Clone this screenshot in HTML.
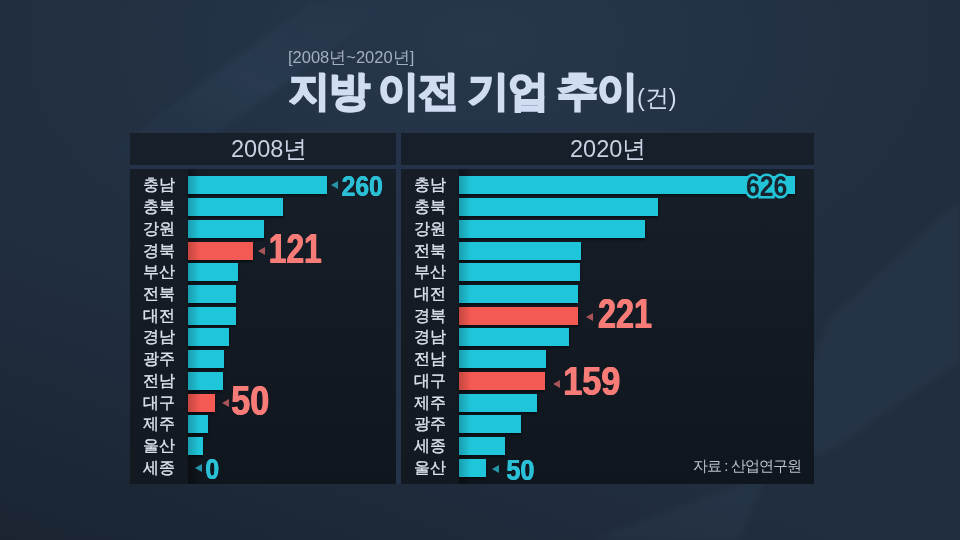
<!DOCTYPE html>
<html><head><meta charset="utf-8"><style>
html,body{margin:0;padding:0}
body{width:960px;height:540px;overflow:hidden;position:relative;font-family:"Liberation Sans",sans-serif;background:#1a2331;}
.bg{position:absolute;left:0;top:0;width:960px;height:540px;background:#212e40;}
.bg1{position:absolute;left:0;top:0;width:960px;height:540px;background:radial-gradient(ellipse 520px 300px at 480px 40px,rgba(40,57,78,.85) 0%,rgba(38,54,74,.45) 50%,rgba(33,46,64,0) 100%);}
.bg2{position:absolute;left:0;top:0;width:960px;height:540px;background:linear-gradient(20deg,rgba(18,24,32,.45) 0%,rgba(18,24,32,0) 35%);}
.hdr{position:absolute;top:133px;height:32px;background:#171f2a;}
.htxt{position:absolute;will-change:transform;top:131px;color:#c9d1e2;font-size:23.5px;line-height:36px;white-space:nowrap}
.body{position:absolute;top:169px;height:315px;background:linear-gradient(180deg,#161e28,#10161d);}
.lcol{position:absolute;top:169px;height:315px;width:58px;background:linear-gradient(180deg,#161d26,#121920);}
.shadow{position:absolute;top:169px;height:315px;width:14px;background:linear-gradient(90deg,rgba(0,0,0,.35),rgba(0,0,0,0));}
.lab{position:absolute;will-change:transform;-webkit-text-stroke:0.35px #dde3ee;width:58px;text-align:center;color:#dde3ee;font-size:16px;line-height:24px;}
.bar{position:absolute;height:18px;box-shadow:0 1.5px 2px rgba(0,8,14,.6);background:linear-gradient(90deg,#1b9db0 0px,#1fc6da 12px,#1fc6da 100%);}
.bar.red{background:linear-gradient(90deg,#c5463f 0px,#f35a53 12px,#f35a53 100%);}
.sub{position:absolute;will-change:transform;left:288px;top:44px;color:#a3aec0;font-size:16.5px;line-height:26px;white-space:nowrap}
.title{position:absolute;will-change:transform;left:288.5px;top:60.5px;color:#cfdcf2;font-size:41px;letter-spacing:-1.3px;line-height:60px;white-space:nowrap;-webkit-text-stroke:3.5px #cfdcf2;}
.unit{position:absolute;will-change:transform;left:636.5px;top:83px;color:#cfdcf2;font-size:23.5px;line-height:30px;white-space:nowrap}
.num{position:absolute;left:0;top:0;font-weight:bold;font-size:100px;line-height:100px;white-space:nowrap;transform-origin:0 0;}
.c{color:#2bc0d6} .r{color:#f77c78}
.tri{position:absolute;width:0;height:0;border-top:4.2px solid transparent;border-bottom:4.2px solid transparent;}
.tc{border-right:7.6px solid #2795a8} .tr{border-right:7.6px solid #a85558}
.src{position:absolute;left:693px;top:454px;color:#b9c1cd;font-size:15px;line-height:24px;white-space:nowrap;letter-spacing:-1px;will-change:transform}
</style></head><body>
<div class="bg"></div><div class="bg1"></div><div class="bg2"></div>
<svg style="position:absolute;left:0;top:0" width="960" height="540" viewBox="0 0 960 540">
<defs><filter id="bl" x="-20%" y="-20%" width="140%" height="140%"><feGaussianBlur stdDeviation="3"/></filter>
<linearGradient id="ga" x1="0" y1="1" x2="1" y2="0"><stop offset="0" stop-color="#5a7fa8" stop-opacity="0"/><stop offset=".5" stop-color="#5a7fa8" stop-opacity=".10"/><stop offset="1" stop-color="#5a7fa8" stop-opacity="0"/></linearGradient></defs>
<polygon points="830,318 960,199 960,362 830,451 590,540 740,540" fill="#506c8c" fill-opacity=".07" filter="url(#bl)"/>
<polygon points="100,160 313,0 400,0 180,160" fill="url(#ga)" filter="url(#bl)"/>
</svg>
<div class="sub">[2008년~2020년]</div>
<div class="title">지방 이전 기업 추이</div>
<div class="unit">(건)</div>
<div style="position:absolute;left:396px;top:133px;width:5px;height:351px;background:#25334a"></div>
<div style="position:absolute;left:130px;top:165px;width:684px;height:4px;background:#24324a"></div>
<div class="hdr" style="left:130px;width:266px"></div>
<div class="htxt" style="left:231px">2008년</div>
<div class="body" style="left:130px;width:266px"></div>
<div class="lcol" style="left:130px"></div>
<div class="shadow" style="left:188px"></div>
<div class="lab" style="left:130px;top:173.30px">충남</div>
<div class="bar" style="left:188px;top:176.30px;width:139.00px"></div>
<div class="lab" style="left:130px;top:195.04px">충북</div>
<div class="bar" style="left:188px;top:198.04px;width:94.50px"></div>
<div class="lab" style="left:130px;top:216.78px">강원</div>
<div class="bar" style="left:188px;top:219.78px;width:76.00px"></div>
<div class="lab" style="left:130px;top:238.52px">경북</div>
<div class="bar red" style="left:188px;top:241.52px;width:65.00px"></div>
<div class="lab" style="left:130px;top:260.26px">부산</div>
<div class="bar" style="left:188px;top:263.26px;width:50.00px"></div>
<div class="lab" style="left:130px;top:282.00px">전북</div>
<div class="bar" style="left:188px;top:285.00px;width:47.50px"></div>
<div class="lab" style="left:130px;top:303.74px">대전</div>
<div class="bar" style="left:188px;top:306.74px;width:47.50px"></div>
<div class="lab" style="left:130px;top:325.48px">경남</div>
<div class="bar" style="left:188px;top:328.48px;width:40.60px"></div>
<div class="lab" style="left:130px;top:347.22px">광주</div>
<div class="bar" style="left:188px;top:350.22px;width:35.60px"></div>
<div class="lab" style="left:130px;top:368.96px">전남</div>
<div class="bar" style="left:188px;top:371.96px;width:34.80px"></div>
<div class="lab" style="left:130px;top:390.70px">대구</div>
<div class="bar red" style="left:188px;top:393.70px;width:26.80px"></div>
<div class="lab" style="left:130px;top:412.44px">제주</div>
<div class="bar" style="left:188px;top:415.44px;width:20.00px"></div>
<div class="lab" style="left:130px;top:434.18px">울산</div>
<div class="bar" style="left:188px;top:437.18px;width:15.30px"></div>
<div class="lab" style="left:130px;top:455.92px">세종</div>
<div class="hdr" style="left:401px;width:413px"></div>
<div class="htxt" style="left:570px">2020년</div>
<div class="body" style="left:401px;width:413px"></div>
<div class="lcol" style="left:401px"></div>
<div class="shadow" style="left:459px"></div>
<div class="lab" style="left:401px;top:173.30px">충남</div>
<div class="bar" style="left:459px;top:176.30px;width:335.80px"></div>
<div class="lab" style="left:401px;top:195.04px">충북</div>
<div class="bar" style="left:459px;top:198.04px;width:199.30px"></div>
<div class="lab" style="left:401px;top:216.78px">강원</div>
<div class="bar" style="left:459px;top:219.78px;width:186.00px"></div>
<div class="lab" style="left:401px;top:238.52px">전북</div>
<div class="bar" style="left:459px;top:241.52px;width:122.00px"></div>
<div class="lab" style="left:401px;top:260.26px">부산</div>
<div class="bar" style="left:459px;top:263.26px;width:120.80px"></div>
<div class="lab" style="left:401px;top:282.00px">대전</div>
<div class="bar" style="left:459px;top:285.00px;width:119.00px"></div>
<div class="lab" style="left:401px;top:303.74px">경북</div>
<div class="bar red" style="left:459px;top:306.74px;width:119.00px"></div>
<div class="lab" style="left:401px;top:325.48px">경남</div>
<div class="bar" style="left:459px;top:328.48px;width:109.50px"></div>
<div class="lab" style="left:401px;top:347.22px">전남</div>
<div class="bar" style="left:459px;top:350.22px;width:87.30px"></div>
<div class="lab" style="left:401px;top:368.96px">대구</div>
<div class="bar red" style="left:459px;top:371.96px;width:85.80px"></div>
<div class="lab" style="left:401px;top:390.70px">제주</div>
<div class="bar" style="left:459px;top:393.70px;width:78.40px"></div>
<div class="lab" style="left:401px;top:412.44px">광주</div>
<div class="bar" style="left:459px;top:415.44px;width:62.00px"></div>
<div class="lab" style="left:401px;top:434.18px">세종</div>
<div class="bar" style="left:459px;top:437.18px;width:45.80px"></div>
<div class="lab" style="left:401px;top:455.92px">울산</div>
<div class="bar" style="left:459px;top:458.92px;width:26.70px"></div>
<div class="tri tc" style="left:330.7px;top:181.30px"></div>
<div class="num c" style="text-shadow:1.5px 0 0 currentColor,-1.5px 0 0 currentColor;transform:matrix(0.24540,0,0,0.29296,341.732,170.606)">260</div>
<div class="tri tr" style="left:258.2px;top:246.70px"></div>
<div class="num r" style="text-shadow:1.5px 0 0 currentColor,-1.5px 0 0 currentColor;transform:matrix(0.31708,0,0,0.41714,268.773,227.243)">121</div>
<div class="tri tr" style="left:221.6px;top:398.80px"></div>
<div class="num r" style="text-shadow:1.5px 0 0 currentColor,-1.5px 0 0 currentColor;transform:matrix(0.34112,0,0,0.41831,231.288,379.325)">50</div>
<div class="tri tc" style="left:194.7px;top:463.80px"></div>
<div class="num c" style="text-shadow:1.5px 0 0 currentColor,-1.5px 0 0 currentColor;transform:matrix(0.24706,0,0,0.29296,205.482,453.706)">0</div>
<div class="tri tr" style="left:586px;top:312.50px"></div>
<div class="num r" style="text-shadow:1.5px 0 0 currentColor,-1.5px 0 0 currentColor;transform:matrix(0.32317,0,0,0.41714,598.015,292.543)">221</div>
<div class="tri tr" style="left:552.9px;top:379.80px"></div>
<div class="num r" style="text-shadow:1.5px 0 0 currentColor,-1.5px 0 0 currentColor;transform:matrix(0.34250,0,0,0.40986,563.159,360.452)">159</div>
<div class="tri tc" style="left:492px;top:465.40px"></div>
<div class="num c" style="text-shadow:1.5px 0 0 currentColor,-1.5px 0 0 currentColor;transform:matrix(0.25187,0,0,0.29577,506.422,454.763)">50</div>
<div class="num" style="color:#19232d;-webkit-text-stroke:18px #22c4d8;paint-order:stroke fill;transform:matrix(0.24780,0,0,0.28732,746.009,171.390)">626</div>
<div class="src">자료 : 산업연구원</div>
</body></html>
